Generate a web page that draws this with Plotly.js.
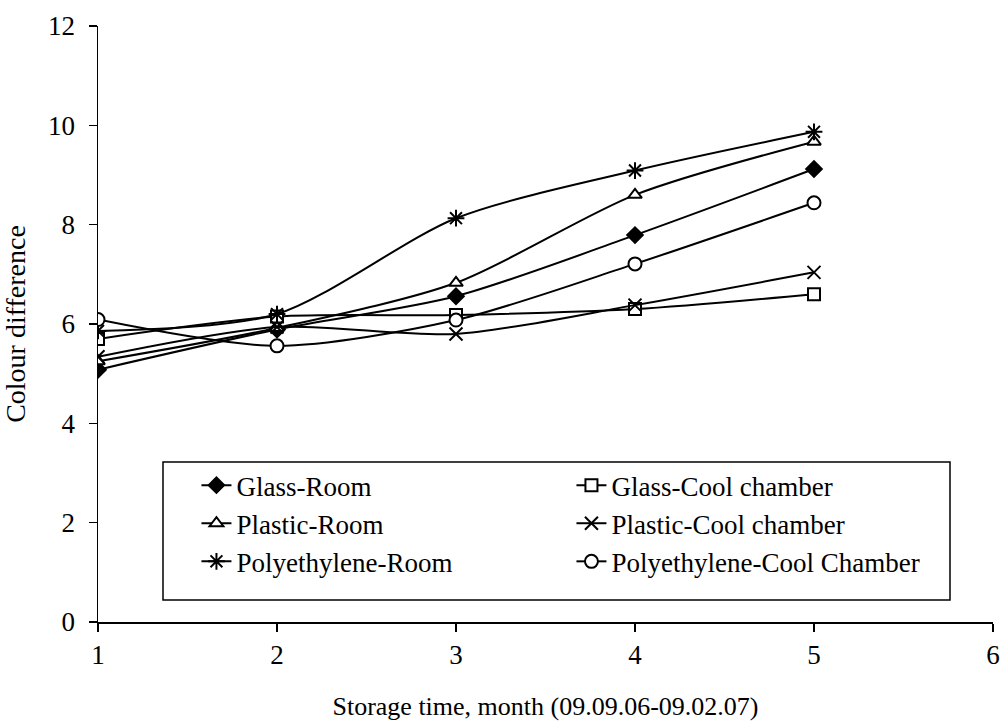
<!DOCTYPE html>
<html>
<head>
<meta charset="utf-8">
<script src="https://cdn.plot.ly/plotly-3.0.1.min.js"></script>
<style>html,body{margin:0;padding:0;background:#fff;}#chart{width:1003px;height:722px;}</style>
</head>
<body>
<div id="chart"></div>
<script>
const months = [1, 2, 3, 4, 5];
const glassRoom = [5.08, 5.89, 6.56, 7.79, 9.12];
const glassCool = [5.70, 6.15, 6.18, 6.30, 6.60];
const plasticRoom = [5.25, 5.92, 6.83, 8.60, 9.67];
const plasticCool = [5.34, 5.94, 5.80, 6.38, 7.04];
const polyRoom = [5.86, 6.20, 8.13, 9.09, 9.87];
const polyCool = [6.09, 5.56, 6.08, 7.21, 8.44];
const seriesNames = ['Glass-Room', 'Glass-Cool chamber', 'Plastic-Room', 'Plastic-Cool chamber', 'Polyethylene-Room', 'Polyethylene-Cool Chamber'];
const yTicks = [0, 2, 4, 6, 8, 10, 12];
const xTicks = [1, 2, 3, 4, 5, 6];

const seriesData = [glassRoom, glassCool, plasticRoom, plasticCool, polyRoom, polyCool];
const symbols = ['diamond', 'square', 'triangle-up', 'x-thin-open', 'asterisk-open', 'circle'];
const sizes = [12, 12, 12, 13, 14, 13];
const fills = ['#000', '#fff', '#fff', '#000', '#000', '#fff'];

const traces = seriesData.map((ys, i) => ({
  x: months, y: ys, name: seriesNames[i], type: 'scatter', mode: 'lines+markers',
  line: {color: '#000', width: 2, shape: 'spline', smoothing: 0.8},
  marker: {symbol: symbols[i], size: sizes[i], color: fills[i], line: {color: '#000', width: 2}}
}));

const FAM = '"Liberation Serif", "Times New Roman", serif';
function f(s) { return {family: FAM, color: '#000', size: s}; }

const layout = {
  width: 1003, height: 722,
  margin: {l: 98, r: 10, t: 26, b: 100},
  paper_bgcolor: '#fff', plot_bgcolor: '#fff',
  font: f(27),
  showlegend: true,
  xaxis: {
    range: [1, 6], tickvals: xTicks, ticktext: xTicks.map(String),
    showline: true, linecolor: '#000', linewidth: 1.5, ticks: 'outside', ticklen: 8, tickcolor: '#000', tickwidth: 1.5,
    showgrid: false, zeroline: false, tickfont: f(27), automargin: false,
    title: {text: 'Storage time, month (09.09.06-09.02.07)', font: f(26), standoff: 28}
  },
  yaxis: {
    range: [0, 12], tickvals: yTicks, ticktext: yTicks.map(String),
    showline: true, linecolor: '#000', linewidth: 1.5, ticks: 'outside', ticklen: 8, tickcolor: '#000', tickwidth: 1.5,
    ticklabelstandoff: 8,
    showgrid: false, zeroline: false, tickfont: f(27), automargin: false,
    title: {text: 'Colour difference', font: f(28), standoff: 14}
  },
  shapes: [{
    type: 'rect', xref: 'paper', yref: 'paper', layer: 'below',
    x0: (163 - 98) / 895, x1: (950 - 98) / 895, y0: (622 - 600) / 596, y1: (622 - 462) / 596,
    line: {color: '#000', width: 1.5}, fillcolor: '#fff'
  }],
  legend: {
    orientation: 'h', x: 0.110, xanchor: 'left', y: 0.270, yanchor: 'top',
    entrywidth: 330, entrywidthmode: 'pixels',
    borderwidth: 0, bgcolor: 'rgba(0,0,0,0)',
    font: f(27), traceorder: 'normal'
  }
};

Plotly.newPlot('chart', traces, layout, {displayModeBar: false, staticPlot: true});
</script>
</body>
</html>
